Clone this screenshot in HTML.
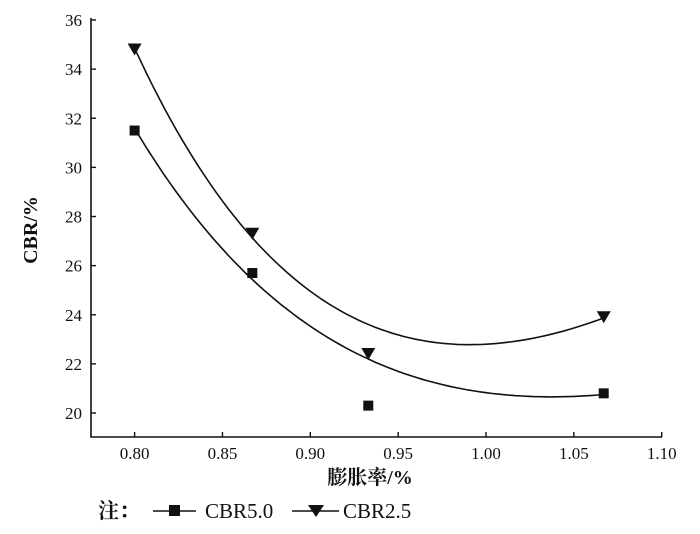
<!DOCTYPE html>
<html><head><meta charset="utf-8"><style>
body{margin:0;background:#fff;}
svg text{font-family:"Liberation Serif","Noto Serif CJK SC",serif;fill:#111;}
</style></head><body>
<svg id="c" width="700" height="529"></svg>
<script>
const xVals=[0.80,0.867,0.933,1.067];
const cbr50=[31.5,25.7,20.3,20.8];
const cbr25=[34.8,27.3,22.4,23.9];
const xTicks=[0.80,0.85,0.90,0.95,1.00,1.05,1.10];
const yTicks=[20,22,24,26,28,30,32,34,36];
const fitWeights=[1,1,0.12,1];
const NS="http://www.w3.org/2000/svg";
const svg=document.getElementById('c');
const X0=91,X1=662,Y0=437;
const xs=v=>134.6+(v-0.80)*(661.7-134.6)/0.30;
const ys=v=>413-(v-20)*(413-20)/16;
function mk(t,a,p){const e=document.createElementNS(NS,t);for(const k in a)e.setAttribute(k,a[k]);(p||svg).appendChild(e);return e;}
let ax=mk('path',{d:`M${X0},${ys(36)-2}V${Y0}H${X1}`,stroke:'#111','stroke-width':1.6,fill:'none'});


xTicks.forEach(v=>{
 mk('line',{x1:xs(v),x2:xs(v),y1:Y0,y2:Y0-5,stroke:'#111','stroke-width':1.4});
 const t=mk('text',{x:xs(v),y:Y0+22,'text-anchor':'middle','font-size':17});t.textContent=v.toFixed(2);
 
 
});
yTicks.forEach(v=>{
 mk('line',{x1:X0,x2:X0+5,y1:ys(v),y2:ys(v),stroke:'#111','stroke-width':1.4});
 const t=mk('text',{x:82,y:ys(v)+6,'text-anchor':'end','font-size':17});t.textContent=v;
 
 
});
let yt=mk('text',{x:0,y:0,'text-anchor':'middle','font-size':20,'font-weight':'bold',transform:'translate(37,230) rotate(-90)'});yt.textContent='CBR/%';


let xt=mk('text',{x:370,y:484,'text-anchor':'middle','font-size':20,'font-weight':'bold'});xt.textContent='膨胀率/%';


function solve(A){const n=A.length;for(let i=0;i<n;i++){for(let j=i+1;j<n;j++){const f=A[j][i]/A[i][i];for(let k=i;k<=n;k++)A[j][k]-=f*A[i][k];}}
 const c=new Array(n).fill(0);for(let i=n-1;i>=0;i--){let s=A[i][n];for(let k=i+1;k<n;k++)s-=A[i][k]*c[k];c[i]=s/A[i][i];}return c;}
function fitExp(x,y,w){let best=null;
 for(let k=6;k<=40;k+=0.5){const f=xi=>[1,xi,Math.exp(-k*(xi-x[0]))];
  const A=[[0,0,0,0],[0,0,0,0],[0,0,0,0]];
  x.forEach((xi,i)=>{const r=f(xi);for(let p=0;p<3;p++){for(let q=0;q<3;q++)A[p][q]+=w[i]*r[p]*r[q];A[p][3]+=w[i]*r[p]*y[i];}});
  const c=solve(A);let e=0;x.forEach((xi,i)=>{const r=f(xi);const d=c[0]*r[0]+c[1]*r[1]+c[2]*r[2]-y[i];e+=w[i]*d*d;});
  if(!best||e<best.e)best={e,c,k};}
 return xi=>best.c[0]+best.c[1]*xi+best.c[2]*Math.exp(-best.k*(xi-x[0]));}
function curve(ys_,name){const g=fitExp(xVals,ys_,fitWeights);let d='';const a=xVals[0],b=xVals[xVals.length-1];
 for(let i=0;i<=80;i++){const x=a+(b-a)*i/80;d+=(i?'L':'M')+xs(x).toFixed(1)+','+ys(g(x)).toFixed(1);}
 const p=mk('path',{d,stroke:'#111','stroke-width':1.6,fill:'none'});
 
 }
curve(cbr50,'cbr5-trend-line');curve(cbr25,'cbr2.5-trend-line');
cbr50.forEach((v,i)=>{const r=mk('rect',{x:xs(xVals[i])-5,y:ys(v)-5,width:10,height:10,fill:'#111'});
 
 });
cbr25.forEach((v,i)=>{const cx=xs(xVals[i]),cy=ys(v);const p=mk('path',{d:`M${cx-7},${cy-6}H${cx+7}L${cx},${cy+6}Z`,fill:'#111'});
 
 });
const lg=mk('g',{});


let n=mk('text',{x:98,y:518,'font-size':21,'font-weight':'bold'},lg);n.textContent='注：';
mk('line',{x1:153,x2:196,y1:511,y2:511,stroke:'#111','stroke-width':1.6},lg);
mk('rect',{x:169,y:505,width:11,height:11,fill:'#111'},lg);
let t1=mk('text',{x:205,y:518,'font-size':21},lg);t1.textContent='CBR5.0';
mk('line',{x1:292,x2:339,y1:511,y2:511,stroke:'#111','stroke-width':1.6},lg);
mk('path',{d:'M308,505H324L316,517Z',fill:'#111'},lg);
let t2=mk('text',{x:343,y:518,'font-size':21},lg);t2.textContent='CBR2.5';
</script>
</body></html>
